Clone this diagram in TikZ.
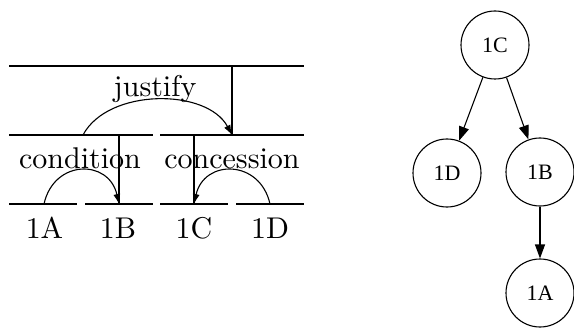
\documentclass[tikz,border=0pt]{standalone}
\usepackage{fontspec}
\newfontfamily\gvfont{Liberation Serif}
\newfontfamily\lmten{lmroman10-regular}[Extension=.otf]
\usetikzlibrary{arrows.meta}
\begin{document}
\begin{tikzpicture}[x=1pt,y=-1pt,
  bar/.style={line width=1.1pt},
  rel/.style={line width=1.1pt,-{Latex[length=10pt,width=7pt]}},
  lab/.style={font=\lmten\fontsize{30}{36}\selectfont,inner sep=0pt,anchor=base},
  gv/.style={circle,draw,line width=1.1pt,minimum size=68pt,inner sep=0pt,font=\gvfont\fontsize{22}{24}\selectfont},
  gvedge/.style={line width=1.1pt,-{Triangle[length=14pt,width=10pt]}}]
\useasboundingbox (0,0) rectangle (574,329);
% span coordinates
\coordinate (t0) at (9,66);
\coordinate (t1) at (304,66);
\coordinate (tv) at (232,66);
\coordinate (m0) at (9,135);
\coordinate (m1) at (153,135);
\coordinate (m2) at (160,135);
\coordinate (m3) at (304,135);
\coordinate (jl) at (83,135);
\coordinate (jr) at (232,135);
\coordinate (cv) at (119,135);
\coordinate (sv) at (194,135);
\coordinate (b0) at (9,204);
\coordinate (b1) at (77,204);
\coordinate (b2) at (85,204);
\coordinate (b3) at (153,204);
\coordinate (b4) at (160,204);
\coordinate (b5) at (228,204);
\coordinate (b6) at (236,204);
\coordinate (b7) at (304,204);
\coordinate (aA) at (44,204);
\coordinate (aB) at (119,204);
\coordinate (aC) at (194,204);
\coordinate (aD) at (270,204);
% labels
\node[lab] (justify) at (155,97) {justify};
\node[lab] (condition) at (80,168) {condition};
\node[lab] (concession) at (232,168) {concession};
\node[lab] (l1A) at (44.5,238) {1A};
\node[lab] (l1B) at (118,238) {1B};
\node[lab] (l1C) at (194,238) {1C};
\node[lab] (l1D) at (270,238) {1D};
% bars
\draw[bar] (t0) -- (t1);
\draw[bar] (tv) -- (jr);
\draw[bar] (m0) -- (m1);
\draw[bar] (m2) -- (m3);
\draw[bar] (cv) -- (aB);
\draw[bar] (sv) -- (aC);
\draw[bar] (b0) -- (b1);
\draw[bar] (b2) -- (b3);
\draw[bar] (b4) -- (b5);
\draw[bar] (b6) -- (b7);
% relation arcs
\draw[rel] (jl) .. controls (108,88) and (207,88) .. (jr);
\draw[rel] (aA) .. controls (54,159) and (109,159) .. (aB);
\draw[rel] (aD) .. controls (260,159) and (204,159) .. (aC);
% tree
\node[gv] (C) at (495,45) {1C};
\node[gv] (D) at (447,173) {1D};
\node[gv] (B) at (540,172) {1B};
\node[gv] (A) at (540,293) {1A};
\draw[gvedge] (C) -- (D);
\draw[gvedge] (C) -- (B);
\draw[gvedge] (B) -- (A);
\end{tikzpicture}
\end{document}
